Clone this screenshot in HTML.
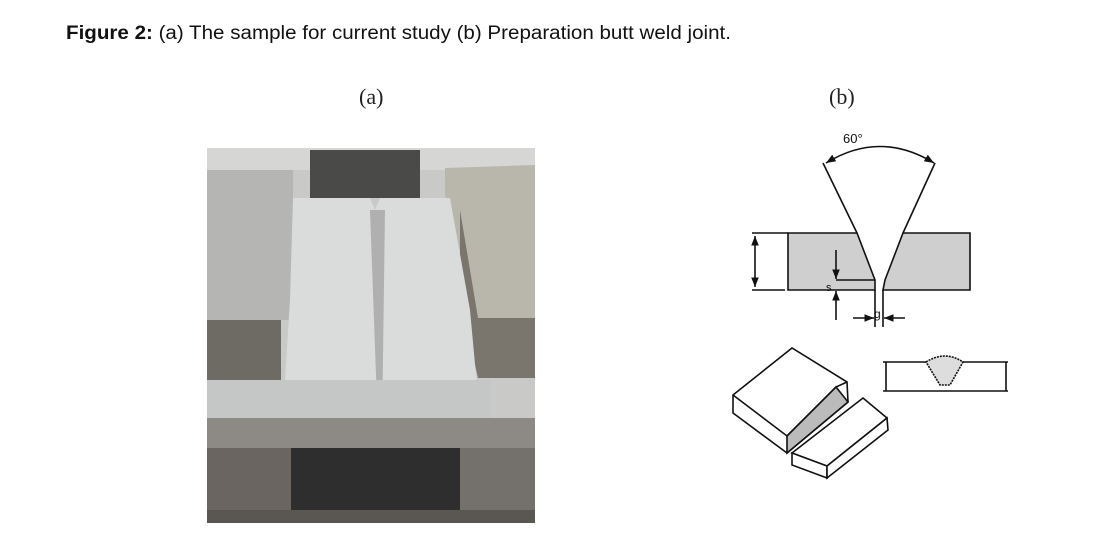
<!DOCTYPE html>
<html><head><meta charset="utf-8"><style>
html,body{margin:0;padding:0;background:#fff;}
svg{display:block;}
</style></head><body>
<svg width="1093" height="542" viewBox="0 0 1093 542" xmlns="http://www.w3.org/2000/svg" font-family="Liberation Sans, sans-serif">
<text x="66" y="39" font-size="19" fill="#111" textLength="665" lengthAdjust="spacingAndGlyphs"><tspan font-weight="bold">Figure 2:</tspan> (a) The sample for current study (b) Preparation butt weld joint.</text>
<text x="359" y="104" font-size="22" font-family="Liberation Serif, serif" fill="#222">(a)</text>
<text x="829" y="104" font-size="22" font-family="Liberation Serif, serif" fill="#222">(b)</text>

<!-- photo -->
<rect x="207" y="148" width="328" height="375" fill="#c9c9c7"/>
<rect x="207" y="148" width="328" height="22" fill="#d6d6d4"/>
<rect x="310" y="150" width="110" height="48" fill="#4a4a48"/>
<rect x="207" y="170" width="86" height="150" fill="#b5b6b4"/>
<rect x="207" y="320" width="74" height="60" fill="#6e6a64"/>
<polygon points="445,168 535,165 535,318 478,318 445,195" fill="#b9b6ac"/>
<polygon points="460,210 478,318 535,318 535,378 478,378 460,300" fill="#7a756d"/>
<polygon points="293,198 370,198 375,210 380,198 450,198 470,310 480,418 290,418 285,380 290,300" fill="#dadbdb"/>
<polygon points="370,210 385,210 382,430 378,430" fill="#b0b0b0"/>
<rect x="207" y="380" width="283" height="38" fill="#c5c6c6"/>
<rect x="207" y="418" width="328" height="30" fill="#8d8a86"/>
<rect x="207" y="448" width="84" height="62" fill="#6a6560"/>
<rect x="291" y="448" width="169" height="62" fill="#2e2e2e"/>
<rect x="460" y="448" width="75" height="62" fill="#74706b"/>
<rect x="207" y="510" width="328" height="13" fill="#5a5752"/>

<defs><marker id="a" viewBox="0 0 10 10" refX="10" refY="5" markerWidth="6" markerHeight="6" orient="auto-start-reverse"><path d="M0,1 L10,5 L0,9 Z" fill="#111"/></marker></defs>
<!-- diagram b -->
<g stroke="#111" stroke-width="1.6" fill="none">
<path d="M826,163 Q880,130 934,163" marker-start="url(#a)" marker-end="url(#a)"/>
<polygon points="788,233 857,233 875,280 875,290 788,290" fill="#cfcfcf"/>
<polygon points="970,233 903,233 885,280 883,290 970,290" fill="#cfcfcf"/>
<line x1="823" y1="163" x2="857" y2="233"/>
<line x1="935" y1="163" x2="903" y2="233"/>
<line x1="752" y1="233" x2="788" y2="233"/>
<line x1="752" y1="290" x2="785" y2="290"/>
<line x1="755" y1="236" x2="755" y2="287" marker-start="url(#a)" marker-end="url(#a)"/>
<line x1="836" y1="250" x2="836" y2="279" marker-end="url(#a)"/>
<line x1="836" y1="291" x2="836" y2="320" marker-start="url(#a)"/>
<line x1="836" y1="280" x2="875" y2="280"/>
<line x1="875" y1="290" x2="875" y2="327"/>
<line x1="883" y1="290" x2="883" y2="327"/>
<line x1="853" y1="318" x2="874" y2="318" marker-end="url(#a)"/>
<line x1="884" y1="318" x2="905" y2="318" marker-start="url(#a)"/>
<polygon points="733,395 792,348 847,382 848,402 787,453 733,413" fill="#fff"/>
<polyline points="733,395 787,436 836,387 847,382"/>
<polygon points="787,436 836,387 848,402 787,453" fill="#bbb"/>
<polygon points="792,453 863,398 887,418 827,466" fill="#fff"/>
<polygon points="792,453 792,465 827,478 827,466" fill="#fff"/>
<polygon points="827,466 827,478 888,430 887,418" fill="#fff"/>
<line x1="883" y1="362" x2="1008" y2="362"/>
<line x1="883" y1="391" x2="1008" y2="391"/>
<line x1="886" y1="362" x2="886" y2="391"/>
<line x1="1006" y1="362" x2="1006" y2="391"/>
<path d="M926,362 Q945,350 963,362 L950,385 L940,385 Z" fill="#ddd" stroke-dasharray="2,1"/>
</g>
<text x="843" y="143" font-size="13" fill="#111">60°</text>
<text x="826" y="291" font-size="11" fill="#111">s</text>
<text x="874" y="318" font-size="12" fill="#111">g</text>
</svg>
</body></html>
